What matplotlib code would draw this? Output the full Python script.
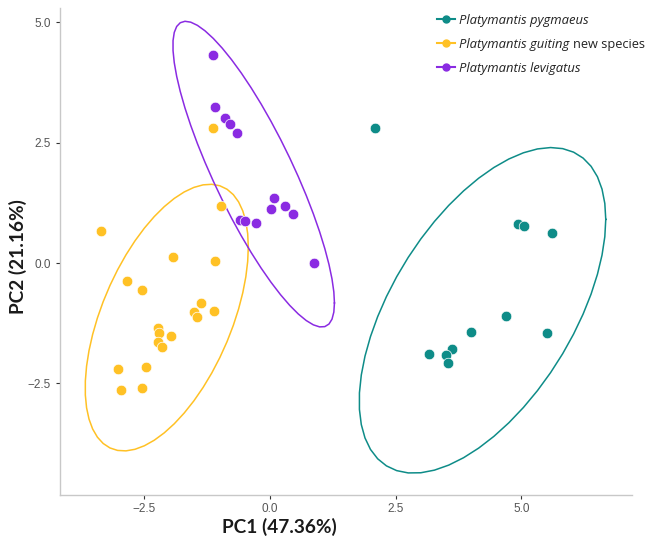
import numpy as np
import matplotlib
matplotlib.use("Agg")
import matplotlib.pyplot as plt
from matplotlib.lines import Line2D
from math import lgamma, exp

# ---------------- data ----------------
species = ["Platymantis pygmaeus", "Platymantis guiting", "Platymantis levigatus"]

pyg_pc1 = [2.08, 4.94, 5.05, 5.61, 4.69, 5.50, 3.99, 3.16, 3.62, 3.49, 3.53]
pyg_pc2 = [2.81, 0.82, 0.76, 0.62, -1.09, -1.46, -1.43, -1.89, -1.79, -1.92, -2.08]

gui_pc1 = [-1.14, -0.97, -3.35, -1.93, -1.09, -2.85, -2.55, -1.37, -1.52, -1.45,
           -1.11, -2.23, -2.21, -1.97, -2.23, -2.15, -3.02, -2.47, -2.96, -2.55]
gui_pc2 = [2.81, 1.19, 0.67, 0.12, 0.04, -0.37, -0.55, -0.84, -1.01, -1.13,
           -1.00, -1.34, -1.45, -1.52, -1.64, -1.75, -2.21, -2.16, -2.63, -2.59]

lev_pc1 = [-1.14, -1.10, -0.89, -0.79, -0.66, 0.07, 0.02, 0.30, 0.45, -0.60, -0.50, -0.27, 0.87]
lev_pc2 = [4.32, 3.25, 3.01, 2.89, 2.70, 1.35, 1.13, 1.19, 1.01, 0.89, 0.88, 0.83, 0.01]

colors = ["#0E8C88", "#FFC125", "#8A2BE2"]
legend_extra = ["", "new species", ""]
x_ticks = [-2.5, 0.0, 2.5, 5.0]
y_ticks = [-2.5, 0.0, 2.5, 5.0]


# ------------- ggplot2-like stat_ellipse (type="t") -------------
def cov_trob(x, nu=5, maxit=25, tol=0.01):
    n, p = x.shape
    wt = np.ones(n)
    loc = x.mean(axis=0)
    w = np.sqrt(wt)
    for _ in range(maxit):
        w0 = w
        X = x - loc
        A = np.sqrt(w / w.sum())[:, None] * X
        _, d, vt = np.linalg.svd(A, full_matrices=False)
        wX = X @ vt.T @ np.diag(1.0 / d)
        Q = (wX ** 2).sum(axis=1)
        w = (wt * (nu + p)) / (nu + Q)
        loc = (w[:, None] * x).sum(axis=0) / w.sum()
        if np.all(np.abs(w - w0) < tol):
            break
    cov = (np.sqrt(w)[:, None] * X).T @ (np.sqrt(w)[:, None] * X) / wt.sum()
    return loc, cov


def f_quantile(q, d1, d2):
    def betainc(a, b, xx):
        t = np.linspace(0, xx, 20001)[1:]
        f = np.exp((a - 1) * np.log(t) + (b - 1) * np.log1p(-t))
        integ = np.trapezoid(f, t)
        return integ / exp(lgamma(a) + lgamma(b) - lgamma(a + b))

    def cdf(fv):
        xx = d1 * fv / (d1 * fv + d2)
        return betainc(d1 / 2, d2 / 2, xx)

    lo, hi = 0.0, 100.0
    for _ in range(60):
        mid = (lo + hi) / 2
        if cdf(mid) < q:
            lo = mid
        else:
            hi = mid
    return (lo + hi) / 2


def stat_ellipse(xs, ys, level=0.95, segments=51):
    data = np.column_stack([xs, ys])
    center, shape = cov_trob(data)
    dfn = 2
    dfd = data.shape[0] - 1
    radius = np.sqrt(dfn * f_quantile(level, dfn, dfd))
    ang = np.arange(segments + 1) * 2 * np.pi / segments
    unit = np.column_stack([np.cos(ang), np.sin(ang)])
    R = np.linalg.cholesky(shape).T
    ell = center + radius * (unit @ R)
    return ell[:, 0], ell[:, 1]


# ---------------- figure ----------------
W, H = 651, 540
fig = plt.figure(figsize=(W / 100, H / 100), dpi=100)
ax = fig.add_axes([59.5 / W, 45 / H, (632 - 59.5) / W, (495 - 8) / H])

groups = [(pyg_pc1, pyg_pc2), (gui_pc1, gui_pc2), (lev_pc1, lev_pc2)]
for (gx, gy), c in zip(groups, colors):
    ex, ey = stat_ellipse(np.array(gx), np.array(gy))
    ax.plot(ex, ey, color=c, lw=1.1, zorder=2)
for (gx, gy), c in zip(groups, colors):
    ax.scatter(gx, gy, s=58, color=c, edgecolor="white", linewidth=0.5, zorder=3)

ax.set_xlim(-4.185, 7.197)
ax.set_ylim(-4.82, 5.30)
ax.set_xticks(x_ticks)
ax.set_yticks(y_ticks)
ax.set_xticklabels([f"{v:.1f}".replace("-", "\u2212") for v in x_ticks])
ax.set_yticklabels([f"{v:.1f}".replace("-", "\u2212") for v in y_ticks])

for s in ["top", "right"]:
    ax.spines[s].set_visible(False)
for s in ["left", "bottom"]:
    ax.spines[s].set_color("#C8C8C8")
    ax.spines[s].set_linewidth(1.0)
ax.tick_params(axis="both", colors="#333333", length=3, width=0.8,
               labelsize=8.5, labelcolor="#555555", pad=3)
for lab in ax.get_xticklabels() + ax.get_yticklabels():
    lab.set_family("Liberation Sans")

# axis titles
fig.text(279 / W, 1 - 527 / H, "PC1 (47.36%)", fontsize=13.7, fontweight="bold",
         family="Lato", color="#1a1a1a", ha="center", va="center")
fig.text(18 / W, 1 - 257 / H, "PC2 (21.16%)", fontsize=13.7, fontweight="bold",
         family="Lato", color="#1a1a1a", ha="center", va="center", rotation=90)

# legend (manual)
row_y = [19, 43, 67]
for sp, extra, c, ry in zip(species, legend_extra, colors, row_y):
    yf = 1 - ry / H
    fig.add_artist(Line2D([437 / W, 455 / W], [yf, yf], color=c, lw=1.5,
                          transform=fig.transFigure))
    fig.add_artist(Line2D([446 / W], [yf], color=c, marker="o", markersize=5,
                          transform=fig.transFigure))
    t = fig.text(459 / W, yf, sp, style="italic", family="Open Sans", size=9.4,
                 color="#222222", va="center_baseline")
    if extra:
        fig.canvas.draw()
        r = t.get_window_extent()
        fig.text((r.x1 + 4) / W, yf, extra, family="Open Sans", size=9.2,
                 color="#222222", va="center_baseline")

fig.savefig("out.png", dpi=100)
